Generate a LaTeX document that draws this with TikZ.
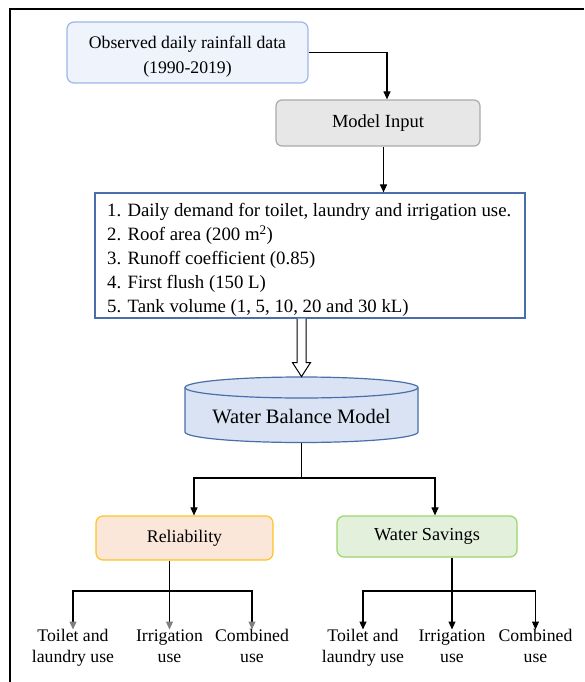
\documentclass[tikz,border=0pt]{standalone}
\usepackage{fontspec}
\setmainfont{Liberation Serif}
\usepackage{tikz}
\usetikzlibrary{arrows.meta,calc}

\definecolor{obsfill}{HTML}{EEF3FC}
\definecolor{obsdraw}{HTML}{9DB8E6}
\definecolor{inpfill}{HTML}{E7E7E7}
\definecolor{inpdraw}{HTML}{ABABAB}
\definecolor{listdraw}{HTML}{4A6EA9}
\definecolor{cylfill}{HTML}{DAE3F3}
\definecolor{relfill}{HTML}{FBE6DA}
\definecolor{reldraw}{HTML}{FFC424}
\definecolor{wsfill}{HTML}{E3F0DB}
\definecolor{wsdraw}{HTML}{9BD66B}
\definecolor{leafgray}{HTML}{7F7F7F}

\begin{document}
\begin{tikzpicture}[x=1pt, y=1pt,
    box/.style={draw, rounded corners=7pt, line width=1.2pt, inner sep=2pt},
    arr/.style={line width=1.1pt, -{Triangle[length=8pt,width=7pt]}},
    grayarr/.style={line width=1.1pt, -{Triangle[length=8pt,width=7pt,color=leafgray]}},
    leaf/.style={anchor=north, align=center, inner sep=0pt, font=\fontsize{17.7}{21}\selectfont}
]
    \useasboundingbox (0,0) rectangle (584,-682);
    \draw[line width=1.2pt] (584,-9) -- (10,-9) -- (10,-682);

    % Input chain
    \node[box, fill=obsfill, draw=obsdraw, minimum width=241pt, minimum height=61pt,
          align=center, font=\fontsize{17.7}{25}\selectfont] (obs) at (187.5,-52.5)
          {\rule{0pt}{20pt}Observed daily rainfall data\\(1990-2019)};
    \node[box, rounded corners=6pt, fill=inpfill, draw=inpdraw, minimum width=204pt, minimum height=46pt,
          font=\fontsize{18.5}{22}\selectfont] (inp) at (378,-123) {Model Input};
    \node[draw=listdraw, line width=1.2pt, minimum width=430pt, minimum height=125pt, inner sep=0pt] (list) at (310,-255.5) {};
    \node[anchor=north west, inner sep=0pt, align=left, font=\fontsize{18.8}{24}\selectfont] (items) at (107,-203) {%
        1. Daily demand for toilet, laundry and irrigation use.\\
        2. Roof area (200 m\textsuperscript{2})\\
        3. Runoff coefficient (0.85)\\
        4. First flush (150 L)\\
        5. Tank volume (1, 5, 10, 20 and 30 kL)};

    \draw[arr] (obs.east) -| ([xshift=9pt]inp.north);
    \draw[arr] ([xshift=5.5pt]inp.south) -- ([xshift=5.5pt]inp.south |- list.north);

    % Water balance model (cylinder)
    \coordinate (cyltop) at (301.5,-387.5);
    \coordinate (cylbot) at (301.5,-432);
    \fill[cylfill] ($(cyltop)+(-116.5,0)$) -- ($(cylbot)+(-116.5,0)$)
        arc[start angle=180, end angle=360, x radius=116.5, y radius=10.5]
        -- ($(cyltop)+(116.5,0)$) arc[start angle=0, end angle=180, x radius=116.5, y radius=10.5] -- cycle;
    \draw[listdraw, line width=1.2pt] ($(cyltop)+(-116.5,0)$) -- ($(cylbot)+(-116.5,0)$)
        arc[start angle=180, end angle=360, x radius=116.5, y radius=10.5] -- ($(cyltop)+(116.5,0)$);
    \draw[listdraw, line width=1.2pt] (cyltop) ellipse [x radius=116.5, y radius=10.5];
    \node[font=\fontsize{20.5}{24}\selectfont] (wbm) at (301.5,-417) {Water Balance Model};

    % Hollow arrow into the model
    \coordinate (ha) at (list.south -| cyltop);
    \draw[line width=1pt, fill=white] ([xshift=-4.5pt]ha) -- ([xshift=-4.5pt,yshift=-44pt]ha)
        -- ([xshift=-9pt,yshift=-44pt]ha) -- ([yshift=-58pt]ha) -- ([xshift=9pt,yshift=-44pt]ha)
        -- ([xshift=4.5pt,yshift=-44pt]ha) -- ([xshift=4.5pt]ha);

    % Outputs
    \node[box, fill=relfill, draw=reldraw, minimum width=177pt, minimum height=44pt,
          font=\fontsize{17.8}{20}\selectfont] (rel) at (184.5,-538) {Reliability};
    \node[box, fill=wsfill, draw=wsdraw, minimum width=180pt, minimum height=41pt,
          font=\fontsize{18.3}{20}\selectfont] (ws) at (427,-536.5) {Water Savings};

    \coordinate (split) at (301.5,-478);
    \draw[line width=1.1pt] ([yshift=-10.5pt]cylbot) -- (split);
    \draw[arr] (split) -| ([xshift=9.5pt]rel.north);
    \draw[arr] (split) -| ([xshift=8pt]ws.north);

    % Uses
    \foreach \n/\x/\t in {rl1/73/{Toilet and\\laundry use}, rl2/169.5/{Irrigation\\use}, rl3/252/{Combined\\use},
                          wl1/363/{Toilet and\\laundry use}, wl2/452/{Irrigation\\use}, wl3/535.5/{Combined\\use}}
        \node[leaf] (\n) at (\x,-629.5) {\t};

    \coordinate (relbus) at (169.5,-591);
    \coordinate (wsbus) at (452,-591);
    \draw[line width=1.1pt] (relbus |- rel.south) -- (relbus);
    \draw[line width=1.1pt] (wsbus |- ws.south) -- (wsbus);
    \foreach \n in {rl1,rl2,rl3}
        \draw[grayarr] (relbus) -| (\n.north);
    \foreach \n in {wl1,wl2,wl3}
        \draw[arr] (wsbus) -| (\n.north);
\end{tikzpicture}
\end{document}
